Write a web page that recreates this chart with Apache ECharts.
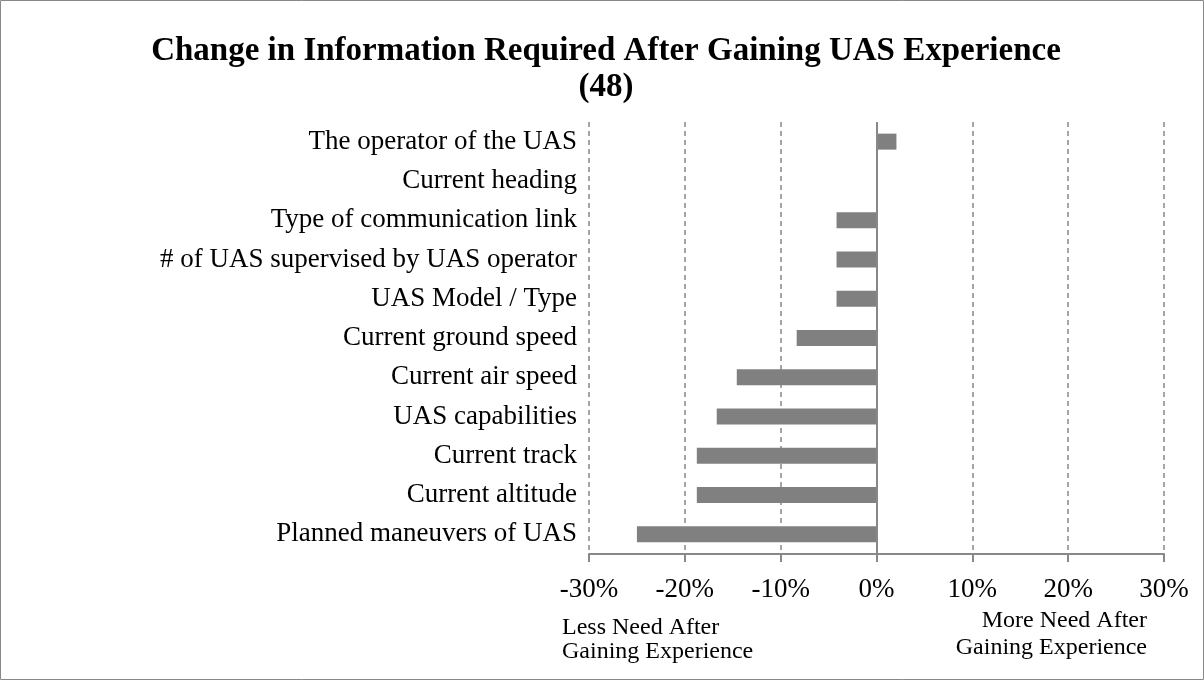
<!DOCTYPE html>
<html>
<head>
<meta charset="utf-8">
<script src="https://cdn.jsdelivr.net/npm/echarts@6/dist/echarts.min.js"></script>
<style>
  html, body { margin: 0; padding: 0; background: #fff; }
  #chart { width: 1204px; height: 680px; }
</style>
</head>
<body>
<div id="chart"></div>
<script>
// categories top to bottom
const categories = [
  'The operator of the UAS',
  'Current heading',
  'Type of communication link',
  '# of UAS supervised by UAS operator',
  'UAS Model / Type',
  'Current ground speed',
  'Current air speed',
  'UAS capabilities',
  'Current track',
  'Current altitude',
  'Planned maneuvers of UAS'
]
// change in percent (n = 48)
const changePct = [2.08, 0, -4.17, -4.17, -4.17, -8.33, -14.58, -16.67, -18.75, -18.75, -25]
const tickMin = -30
const tickMax = 30
const tickStep = 10

const FONT = '"Liberation Serif", "DejaVu Serif", serif'

const chart = echarts.init(document.getElementById('chart'))

const option = {
  animation: false,
  backgroundColor: '#fff',
  title: {
    text: 'Change in Information Required After Gaining UAS Experience\n(48)',
    left: 601,
    top: 28,
    textAlign: 'center',
    textStyle: {
      fontFamily: FONT,
      fontWeight: 'bold',
      fontSize: 33,
      lineHeight: 36,
      color: '#000'
    }
  },
  grid: {
    left: 589,
    right: 40,
    top: 122,
    bottom: 126
  },
  xAxis: {
    type: 'value',
    min: tickMin,
    max: tickMax,
    interval: tickStep,
    axisLine: { show: true, lineStyle: { color: '#888', width: 2 } },
    axisTick: { show: true, length: 8, lineStyle: { color: '#888', width: 2 } },
    axisLabel: {
      margin: 22,
      fontFamily: FONT,
      fontSize: 27,
      color: '#000',
      formatter: v => Math.round(v) + '%'
    },
    splitLine: {
      show: true,
      lineStyle: { color: '#888', type: [5, 4], width: 1.5 }
    }
  },
  yAxis: {
    type: 'category',
    data: categories,
    inverse: true,
    axisLine: { show: false, onZero: false },
    axisTick: { show: false },
    axisLabel: {
      margin: 12,
      fontFamily: FONT,
      fontSize: 27,
      color: '#000'
    }
  },
  series: [
    {
      type: 'bar',
      data: changePct,
      barWidth: 16,
      itemStyle: { color: '#808080' },
      markLine: {
        silent: true,
        symbol: 'none',
        label: { show: false },
        lineStyle: { color: '#888', type: 'solid', width: 2 },
        data: [{ xAxis: 0 }]
      }
    }
  ],
  graphic: [
    {
      type: 'rect',
      shape: { x: 0.5, y: 0.5, width: 1203, height: 679 },
      style: { fill: null, stroke: '#888', lineWidth: 1 },
      silent: true
    },
    {
      type: 'text',
      x: 562,
      y: 640,
      style: {
        text: 'Less Need After\nGaining Experience',
        font: '24px ' + FONT,
        lineHeight: 24,
        textAlign: 'left',
        textVerticalAlign: 'middle',
        fill: '#000'
      }
    },
    {
      type: 'text',
      x: 1147,
      y: 634,
      style: {
        text: 'More Need After\nGaining Experience',
        font: '24px ' + FONT,
        lineHeight: 27,
        textAlign: 'right',
        textVerticalAlign: 'middle',
        fill: '#000'
      }
    }
  ]
}

chart.setOption(option)
</script>
</body>
</html>
